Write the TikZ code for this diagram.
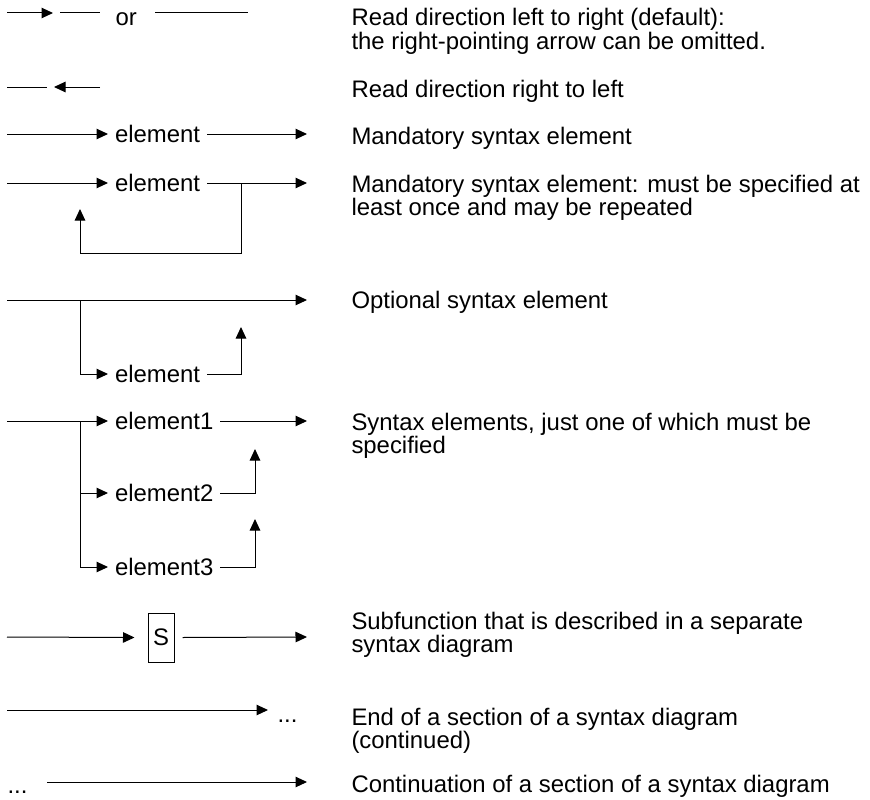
\documentclass[tikz,border=0pt]{standalone}
\usepackage{fontspec}
\setmainfont{Liberation Sans}
\usetikzlibrary{arrows.meta,positioning}

\begin{document}
\begin{tikzpicture}[x=1pt,y=-1pt,line width=1pt,font=\fontsize{23.9pt}{22.5pt}\selectfont]
   \tikzstyle{ar}=[-{Triangle[length=11.5pt,width=10.5pt]}]
   \tikzstyle{el}=[anchor=west,inner sep=0pt,outer xsep=7pt,text height=17pt,text depth=0pt]
   \tikzstyle{sbox}=[draw,minimum width=26pt,minimum height=49pt,inner sep=0pt]
   \tikzstyle{txt}=[anchor=base west,inner sep=0pt]

   \useasboundingbox (0,0) rectangle (870,800);

   % read direction
   \coordinate (r1a) at (7,13);   \coordinate (r1b) at (53,13);
   \coordinate (r1c) at (60,13);  \coordinate (r1d) at (100,13);
   \coordinate (r1e) at (155,13); \coordinate (r1f) at (248,13);
   \node (or) [txt] at (115,26) {or};
   \draw [ar] (r1a) -- (r1b);
   \draw (r1c) -- (r1d);
   \draw (r1e) -- (r1f);

   \coordinate (r2a) at (7,87);  \coordinate (r2b) at (47,87);
   \coordinate (r2c) at (54,87); \coordinate (r2d) at (100,87);
   \draw (r2a) -- (r2b);
   \draw [ar] (r2d) -- (r2c);

   % mandatory
   \coordinate (r3a) at (7,134); \coordinate (r3b) at (307,134);
   \node (e3) [el] at (108,134) {element};
   \draw [ar] (r3a) -- (e3.west);
   \draw [ar] (e3.east) -- (r3b);

   % repeated
   \coordinate (r4a) at (7,183);   \coordinate (r4b) at (307,183);
   \coordinate (r4c) at (241,183); \coordinate (r4d) at (241,253);
   \coordinate (r4e) at (80,209);
   \node (e4) [el] at (108,183) {element};
   \draw [ar] (r4a) -- (e4.west);
   \draw [ar] (e4.east) -- (r4b);
   \draw [ar] (r4c) -- (r4d) -| (r4e);

   % optional
   \coordinate (r5a) at (7,300);  \coordinate (r5b) at (307,300);
   \coordinate (r5c) at (80,300); \coordinate (r5d) at (241,327);
   \node (e5) [el] at (108,374) {element};
   \draw [ar] (r5a) -- (r5b);
   \draw [ar] (r5c) |- (e5.west);
   \draw [ar] (e5.east) -| (r5d);

   % one of several
   \coordinate (r6a) at (7,421);   \coordinate (r6b) at (307,421);
   \coordinate (r6c) at (80,421);
   \coordinate (r6d) at (255,449); \coordinate (r6e) at (255,519);
   \node (e61) [el] at (108,421) {element1};
   \node (e62) [el] at (108,493) {element2};
   \node (e63) [el] at (108,567) {element3};
   \draw [ar] (r6a) -- (e61.west);
   \draw [ar] (e61.east) -- (r6b);
   \draw [ar] (r6c) |- (e62.west);
   \draw [ar] (r6c) |- (e63.west);
   \draw [ar] (e62.east) -| (r6d);
   \draw [ar] (e63.east) -| (r6e);

   % subfunction
   \coordinate (r7a) at (7,637); \coordinate (r7b) at (307,637);
   \node (sub) [sbox] at (161,637.5) {S};
   \draw [ar] (r7a) -- ([xshift=-13pt]sub.west);
   \draw [ar] ([xshift=8pt]sub.east) -- (r7b);

   % continued
   \coordinate (r8a) at (7,710); \coordinate (r8b) at (268,710);
   \node (dend) [txt] at (277,722) {...};
   \draw [ar] (r8a) -- (r8b);

   \coordinate (r9a) at (47,782); \coordinate (r9b) at (307,782);
   \node (dcont) [txt] at (7,793) {...};
   \draw [ar] (r9a) -- (r9b);

   % descriptions
   \node (d1a) [txt] at (351,26)  {Read direction left to right (default):};
   \node (d1b) [txt] at (351,49)  {the right-pointing arrow can be omitted.};
   \node (d2)  [txt] at (351,97)  {Read direction right to left};
   \node (d3)  [txt] at (351,144) {Mandatory syntax element};
   \node (d4a) [txt] at (351,192) {Mandatory syntax element: must be specified at};
   \node (d4b) [txt] at (351,215) {least once and may be repeated};
   \node (d5)  [txt] at (351,308) {Optional syntax element};
   \node (d6a) [txt] at (351,430) {Syntax elements, just one of which must be};
   \node (d6b) [txt] at (351,453) {specified};
   \node (d7a) [txt] at (351,629) {Subfunction that is described in a separate};
   \node (d7b) [txt] at (351,652) {syntax diagram};
   \node (d8a) [txt] at (351,725) {End of a section of a syntax diagram};
   \node (d8b) [txt] at (351,748) {(continued)};
   \node (d9)  [txt] at (351,792) {Continuation of a section of a syntax diagram};
\end{tikzpicture}
\end{document}
